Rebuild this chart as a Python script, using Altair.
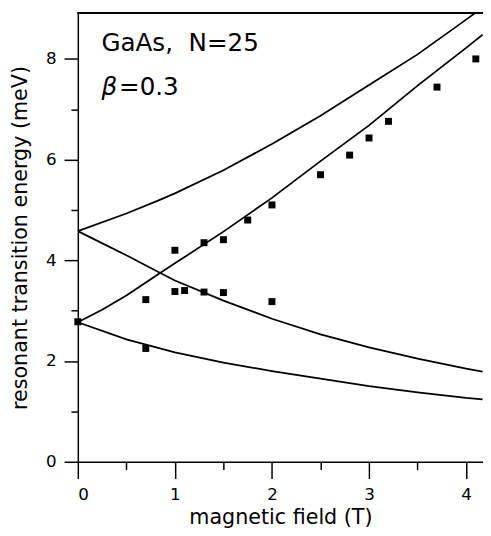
import altair as alt
import pandas as pd

# ---- data ----
curve_a_x = [0, 0.5, 0.82, 1.0, 1.5, 2.0, 2.5, 3.0, 3.5, 4.0, 4.17]
curve_a_y = [4.58, 4.93, 5.18, 5.33, 5.79, 6.31, 6.87, 7.48, 8.09, 8.78, 9.02]

curve_b_x = [0, 0.25, 0.5, 0.84, 1.0, 1.5, 2.0, 2.5, 3.0, 3.5, 4.0, 4.17]
curve_b_y = [2.77, 3.02, 3.30, 3.74, 3.94, 4.57, 5.24, 5.97, 6.68, 7.47, 8.22, 8.48]

curve_c_x = [0, 0.5, 0.84, 1.0, 1.5, 2.0, 2.5, 3.0, 3.5, 4.0, 4.17]
curve_c_y = [4.58, 4.10, 3.76, 3.60, 3.20, 2.84, 2.53, 2.27, 2.05, 1.85, 1.79]

curve_d_x = [0, 0.5, 1.0, 1.5, 2.0, 2.5, 3.0, 3.5, 4.0, 4.17]
curve_d_y = [2.77, 2.43, 2.17, 1.97, 1.80, 1.65, 1.50, 1.38, 1.27, 1.24]

meas_x = [0, 0.7, 0.7, 1.0, 1.0, 1.1, 1.3, 1.3, 1.5, 1.5, 1.75, 2.0, 2.0, 2.5, 2.8, 3.0, 3.2, 3.7, 4.1]
meas_y = [2.78, 3.22, 2.25, 4.20, 3.38, 3.40, 4.35, 3.37, 4.41, 3.36, 4.80, 5.10, 3.18, 5.70, 6.09, 6.43, 6.76, 7.44, 8.00]

x_ticks = [0, 0.5, 1, 1.5, 2, 2.5, 3, 3.5, 4]
y_ticks = [0, 1, 2, 3, 4, 5, 6, 7, 8]

X_MAX = 4.174
Y_MAX = 8.906
W, H = 412, 456

curves = pd.concat([
    pd.DataFrame({"B": curve_a_x, "E": curve_a_y, "curve": "a"}),
    pd.DataFrame({"B": curve_b_x, "E": curve_b_y, "curve": "b"}),
    pd.DataFrame({"B": curve_c_x, "E": curve_c_y, "curve": "c"}),
    pd.DataFrame({"B": curve_d_x, "E": curve_d_y, "curve": "d"}),
])
points = pd.DataFrame({"B": meas_x, "E": meas_y})
labels_upright = pd.DataFrame({
    "B": [0.243, 0.425], "E": [8.16, 7.29],
    "txt": ["GaAs,\u00a0\u00a0N=25", "=0.3"],
})
labels_italic = pd.DataFrame({"B": [0.243], "E": [7.29], "txt": ["β"]})

FONT = "DejaVu Sans"

x_scale = alt.Scale(domain=[0, X_MAX], nice=False, zero=False)
y_scale = alt.Scale(domain=[0, Y_MAX], nice=False, zero=False)

x_enc = alt.X(
    "B:Q", scale=x_scale,
    axis=alt.Axis(
        values=x_ticks, title="magnetic field (T)", grid=False,
        labelExpr="datum.value % 1 === 0 ? '' + datum.value : ''",
        tickSize={"condition": {"test": "datum.value % 1 === 0", "value": 17}, "value": 8},
        labelPadding=8, titlePadding=5,
    ),
)
y_enc = alt.Y(
    "E:Q", scale=y_scale,
    axis=alt.Axis(
        values=y_ticks, title="resonant transition energy (meV)", grid=False,
        labelExpr="datum.value % 2 === 0 ? '' + datum.value : ''",
        tickSize={"condition": {"test": "datum.value % 2 === 0", "value": 14}, "value": 7},
        labelPadding=8, titlePadding=15,
    ),
)

lines = alt.Chart(curves).mark_line(color="black", strokeWidth=1.8, clip=True).encode(
    x=x_enc, y=y_enc, detail="curve:N", order="B:Q"
)
squares = alt.Chart(points).mark_square(color="black", size=50, opacity=1, filled=True).encode(
    x=alt.X("B:Q", scale=x_scale), y=alt.Y("E:Q", scale=y_scale)
)
text_up = alt.Chart(labels_upright).mark_text(
    align="left", baseline="alphabetic", fontSize=25, font=FONT, color="black"
).encode(
    x=alt.X("B:Q", scale=x_scale), y=alt.Y("E:Q", scale=y_scale), text="txt:N",
)
text_it = alt.Chart(labels_italic).mark_text(
    align="left", baseline="alphabetic", fontSize=25, font=FONT, color="black", fontStyle="italic"
).encode(
    x=alt.X("B:Q", scale=x_scale), y=alt.Y("E:Q", scale=y_scale), text="txt:N",
)
frame_top = alt.Chart(points).mark_rule(color="black", strokeWidth=1.5).encode(
    x=alt.value(0), x2=alt.value(W), y=alt.value(0)
)

chart = alt.layer(lines, squares, text_up, text_it, frame_top).properties(
    width=W, height=H,
    autosize=alt.AutoSizeParams(type="none"),
    padding={"left": 71, "top": 1, "right": 0, "bottom": 64},
).configure_view(stroke=None).configure_axis(
    domainColor="black", domainWidth=1.5, tickColor="black", tickWidth=1.5,
    labelFont=FONT, labelFontSize=17, labelColor="black",
    titleFont=FONT, titleFontSize=21, titleFontWeight="normal", titleColor="black",
)

chart.save("out.html", embed_options={"renderer": "svg", "actions": False})
